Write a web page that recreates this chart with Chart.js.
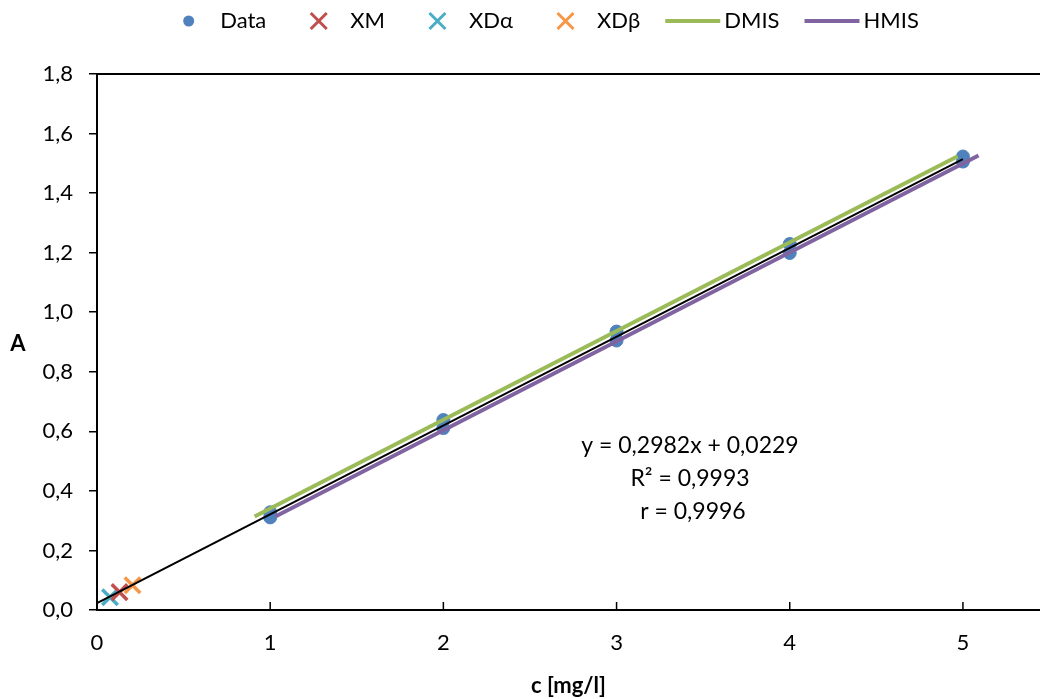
<!DOCTYPE html>
<html>
<head>
<meta charset="utf-8">
<script src="https://cdn.jsdelivr.net/npm/chart.js@4.4.1/dist/chart.umd.min.js"></script>
<style>
  html, body { margin: 0; padding: 0; background: #fff; overflow: hidden; }
  canvas { display: block; }
</style>
</head>
<body>
<canvas id="calib" width="1040" height="699"></canvas>
<script>
// calibration standards (two readings per concentration)
const conc = [1, 2, 3, 4, 5];
const absA = [0.328, 0.638, 0.935, 1.229, 1.523];
const absB = [0.311, 0.611, 0.905, 1.199, 1.506];

// limit points near the origin
const xmX = [0.13], xmY = [0.060];
const xdaX = [0.075], xdaY = [0.043];
const xdbX = [0.205], xdbY = [0.083];

// DMIS / HMIS lines (end points)
const dmisX = [0.91, 4.97], dmisY = [0.314, 1.524];
const hmisX = [1.03, 5.09], hmisY = [0.314, 1.526];

// linear trendline end points
const trendX = [0, 5], trendY = [0.0229, 1.514];

const xTicks = [0, 1, 2, 3, 4, 5];
const eqLines = ['y = 0,2982x + 0,0229', 'R\u00b2 = 0,9993', ' r = 0,9996'];

const FONT = 'Lato, "Open Sans", sans-serif';
const pts = (xs, ys) => xs.map((x, i) => ({x: x, y: ys[i]}));

const blue = '#4F81BD', red = '#C0504D', teal = '#4BACC6', orange = '#F79646',
      green = '#9BBB59', purple = '#8064A2';

const excelLegend = {
  id: 'excelLegend',
  afterDraw(chart) {
    const ctx = chart.ctx;
    const items = chart.data.datasets.filter(d => !d.noLegend);
    ctx.save();
    ctx.font = '22px ' + FONT;
    const symW = 55, gapT = 4, gapItem = 25;
    let total = 0;
    items.forEach((d, i) => {
      total += symW + gapT + ctx.measureText(d.label).width + (i < items.length - 1 ? gapItem : 0);
    });
    let x = 540 - total / 2;
    const y = 21;
    items.forEach(d => {
      const cx = x + symW / 2;
      if (d.showLine) {
        ctx.strokeStyle = d.borderColor;
        ctx.lineWidth = 4;
        ctx.beginPath(); ctx.moveTo(x, y); ctx.lineTo(x + symW, y); ctx.stroke();
      } else if (d.pointStyle === 'crossRot') {
        const r = 8;
        ctx.strokeStyle = d.pointBorderColor;
        ctx.lineWidth = 3;
        ctx.beginPath();
        ctx.moveTo(cx - r, y - r); ctx.lineTo(cx + r, y + r);
        ctx.moveTo(cx + r, y - r); ctx.lineTo(cx - r, y + r);
        ctx.stroke();
      } else {
        ctx.fillStyle = d.pointBackgroundColor;
        ctx.beginPath(); ctx.arc(cx, y, 5.5, 0, Math.PI * 2); ctx.fill();
      }
      ctx.fillStyle = '#000';
      ctx.textBaseline = 'middle';
      ctx.textAlign = 'left';
      ctx.fillText(d.label, x + symW + gapT, y);
      x += symW + gapT + ctx.measureText(d.label).width + gapItem;
    });
    ctx.restore();
  }
};

const frameAndNotes = {
  id: 'frameAndNotes',
  afterDraw(chart) {
    const ctx = chart.ctx;
    const a = chart.chartArea;
    const xs = chart.scales.x;
    ctx.save();
    // top frame line
    ctx.strokeStyle = '#000';
    ctx.lineWidth = 2;
    ctx.beginPath(); ctx.moveTo(a.left, a.top); ctx.lineTo(chart.width, a.top); ctx.stroke();
    // inward x tick marks
    ctx.lineWidth = 1.5;
    xs.ticks.forEach(t => {
      const px = xs.getPixelForValue(t.value);
      ctx.beginPath(); ctx.moveTo(px, a.bottom); ctx.lineTo(px, a.bottom - 8); ctx.stroke();
    });
    // upright y axis title
    ctx.fillStyle = '#000';
    ctx.font = 'bold 22px ' + FONT;
    ctx.textAlign = 'center';
    ctx.textBaseline = 'middle';
    ctx.fillText('A', 18, (a.top + a.bottom) / 2 + 2);
    // regression text
    ctx.font = '23px ' + FONT;
    eqLines.forEach((s, i) => ctx.fillText(s, 690, 446 + i * 33));
    ctx.restore();
  }
};

new Chart(document.getElementById('calib'), {
  type: 'scatter',
  data: {
    datasets: [
      {label: 'Data', data: pts(conc, absA).concat(pts(conc, absB)), pointStyle: 'circle',
       pointRadius: 6.5, pointBackgroundColor: blue, pointBorderColor: blue, showLine: false, order: 5},
      {label: 'XM', data: pts(xmX, xmY), pointStyle: 'crossRot', pointRadius: 11,
       pointBorderWidth: 3.5, pointBorderColor: red, pointBackgroundColor: red, showLine: false, order: 4},
      {label: 'XD\u03b1', data: pts(xdaX, xdaY), pointStyle: 'crossRot', pointRadius: 11,
       pointBorderWidth: 3.5, pointBorderColor: teal, pointBackgroundColor: teal, showLine: false, order: 4},
      {label: 'XD\u03b2', data: pts(xdbX, xdbY), pointStyle: 'crossRot', pointRadius: 11,
       pointBorderWidth: 3.5, pointBorderColor: orange, pointBackgroundColor: orange, showLine: false, order: 4},
      {label: 'DMIS', data: pts(dmisX, dmisY), showLine: true, borderColor: green, borderWidth: 4,
       pointRadius: 0, order: 2},
      {label: 'HMIS', data: pts(hmisX, hmisY), showLine: true, borderColor: purple, borderWidth: 4,
       pointRadius: 0, order: 2},
      {label: 'trend', noLegend: true, data: pts(trendX, trendY), showLine: true, borderColor: '#000',
       borderWidth: 2, pointRadius: 0, order: 1}
    ]
  },
  options: {
    responsive: false,
    animation: false,
    layout: {autoPadding: false, padding: {top: 74, right: 0, left: 0, bottom: 0}},
    plugins: {
      legend: {display: false},
      tooltip: {enabled: false}
    },
    scales: {
      x: {
        type: 'linear',
        min: 0,
        max: 5.445,
        afterFit(scale) { scale.height = 89; scale.paddingRight = 0; },
        afterBuildTicks(scale) { scale.ticks = xTicks.map(v => ({value: v})); },
        ticks: {color: '#000', padding: 20, font: {family: FONT, size: 22}, maxRotation: 0},
        grid: {display: true, drawOnChartArea: false, drawTicks: false},
        border: {color: '#000', width: 2},
        title: {display: true, text: 'c [mg/l]', color: '#000', padding: {top: 0, bottom: 0},
                font: {family: FONT, size: 22, weight: 'bold'}}
      },
      y: {
        min: 0,
        max: 1.8,
        afterFit(scale) { scale.width = 97; },
        ticks: {stepSize: 0.2, color: '#000', padding: 16, font: {family: FONT, size: 22},
                callback: v => v.toFixed(1).replace('.', ',')},
        grid: {display: true, drawOnChartArea: false, drawTicks: true, tickLength: 8,
               color: '#000', lineWidth: 1.5},
        border: {color: '#000', width: 2},
        title: {display: false}
      }
    }
  },
  plugins: [excelLegend, frameAndNotes]
});
</script>
</body>
</html>
